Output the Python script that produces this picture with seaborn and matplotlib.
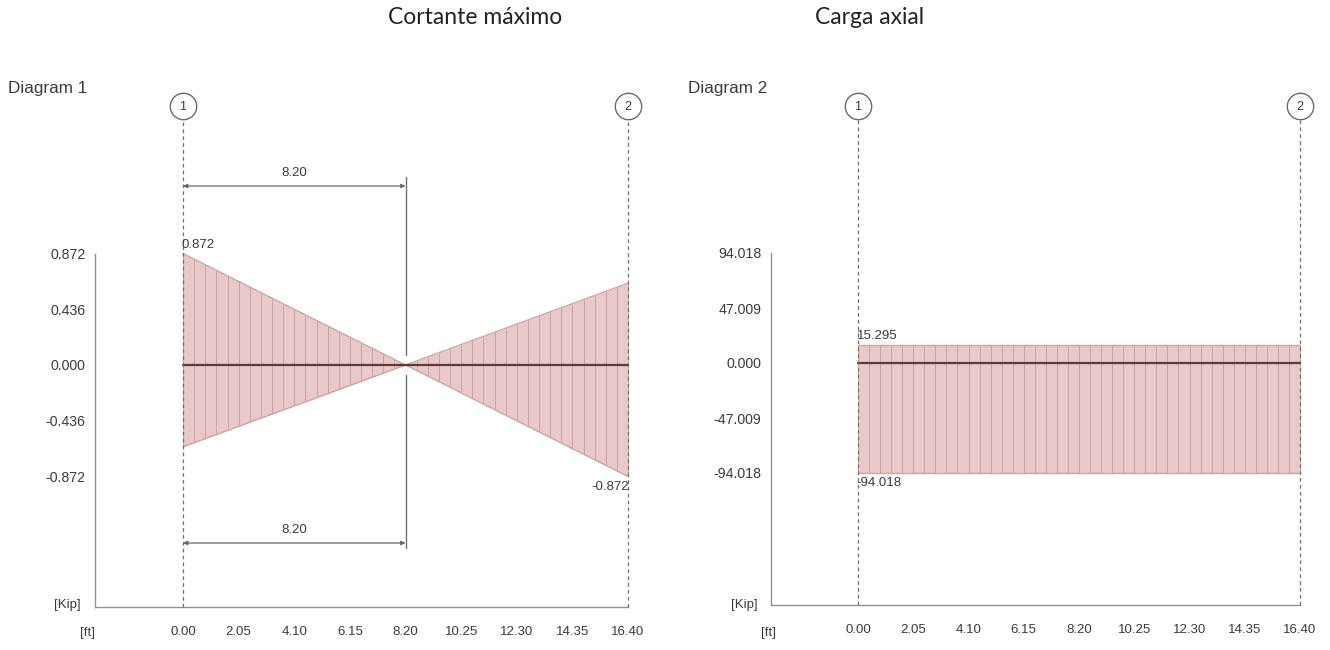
import numpy as np
import pandas as pd
import matplotlib
matplotlib.use("Agg")
import matplotlib.pyplot as plt
import seaborn as sns

# ---- data -------------------------------------------------------------
# Shear envelope (kip) along the member (ft)
shear_x = [0.0, 8.2, 16.4]
shear_max = [0.872, 0.0, 0.64]
shear_min = [-0.64, 0.0, -0.872]
shear_ticks = [0.872, 0.436, 0.0, -0.436, -0.872]

# Axial load envelope (kip)
axial_x = [0.0, 16.4]
axial_max = [15.295, 15.295]
axial_min = [-94.018, -94.018]
axial_ticks = [94.018, 47.009, 0.0, -47.009, -94.018]

x_ticks = [0.00, 2.05, 4.10, 6.15, 8.20, 10.25, 12.30, 14.35, 16.40]
supports = [0.0, 16.4]
support_names = ["1", "2"]
span_len = 8.2

titles = ["Cortante máximo", "Carga axial"]
diagram_names = ["Diagram 1", "Diagram 2"]
y_unit = "[Kip]"
x_unit = "[ft]"

# ---- style ------------------------------------------------------------
sns.set_style("white")
plt.rcParams["font.family"] = ["Liberation Sans", "DejaVu Sans"]

W, H = 1330, 650
FILL = "#e9c8c9"
HATCH = "#cba4a5"
EDGE = "#cfa6a7"
ZERO = "#5e3a3a"
AXC = "#919191"
TXT = "#3a3a3a"
TICK_FS = 9.5
YTICK_FS = 10.2

fig = plt.figure(figsize=(W / 100, H / 100), dpi=100)


def make_axes(box, x0, sx, y0, sy):
    """Axes whose data scale follows the given origin/scale in figure pixels."""
    l, t, r, b = box
    ax = fig.add_axes([l / W, 1 - b / H, (r - l) / W, (b - t) / H])
    ax.set_xlim((l - x0) / sx, (r - x0) / sx)
    ax.set_ylim((y0 - b) / sy, (y0 - t) / sy)
    return ax


def draw_panel(ax, xs, vmax, vmin, yticks, circle_y, n_div=40):
    ax.set_facecolor("none")
    # filled envelope
    ax.fill_between(xs, vmin, vmax, color=FILL, lw=0, zorder=1)
    # vertical hatch stations
    st = np.linspace(xs[0], xs[-1], n_div + 1)
    ax.vlines(st, np.interp(st, xs, vmin), np.interp(st, xs, vmax),
              colors=HATCH, lw=0.7, zorder=2)
    env = pd.DataFrame({"x": list(xs) * 2,
                        "v": list(vmax) + list(vmin),
                        "side": ["max"] * len(xs) + ["min"] * len(xs)})
    sns.lineplot(data=env, x="x", y="v", units="side", estimator=None,
                 color=EDGE, lw=1.0, ax=ax, zorder=3)
    base = pd.DataFrame({"x": [xs[0], xs[-1]], "v": [0.0, 0.0]})
    sns.lineplot(data=base, x="x", y="v", color=ZERO, lw=1.6, ax=ax, zorder=4)

    # support grid lines with numbered bubbles
    ylo = ax.get_ylim()[0]
    for xs_, name in zip(supports, support_names):
        ax.plot([xs_, xs_], [ylo, circle_y], color="#6f6f6f", lw=0.9,
                ls=(0, (3, 2.5)), zorder=5, clip_on=False)
        ax.plot([xs_], [circle_y], marker="o", ms=19, mfc="white",
                mec="#6a6a6a", mew=1.0, zorder=6, clip_on=False)
        ax.annotate(name, xy=(xs_, circle_y), xytext=(0, -0.5),
                    textcoords="offset points", ha="center", va="center",
                    fontsize=9, color=TXT, zorder=7)

    # axes
    for s in ("top", "right"):
        ax.spines[s].set_visible(False)
    for s in ("left", "bottom"):
        ax.spines[s].set_color(AXC)
        ax.spines[s].set_linewidth(1.0)
    ax.spines["left"].set_bounds(ylo, max(yticks))
    ax.spines["bottom"].set_bounds(ax.get_xlim()[0], x_ticks[-1])
    ax.set_yticks(yticks)
    ax.set_yticklabels([f"{v:.3f}" for v in yticks])
    ax.set_xticks(x_ticks)
    ax.set_xticklabels([f"{v:.2f}" for v in x_ticks])
    ax.tick_params(axis="y", direction="out", length=5, width=0.9,
                   color=AXC, labelsize=YTICK_FS, labelcolor=TXT, pad=2)
    ax.tick_params(axis="x", direction="out", length=7, width=0.9,
                   color=AXC, labelsize=TICK_FS, labelcolor=TXT, pad=7)
    ax.set_xlabel("")
    ax.set_ylabel("")
    ax.grid(False)

    # extreme value labels
    ax.annotate(f"{vmax[0]:.3f}", xy=(xs[0], vmax[0]), xytext=(-1, 2),
                textcoords="offset points", ha="left", va="bottom",
                fontsize=TICK_FS, color=TXT, zorder=8)
    if vmin[-1] < vmin[0]:
        ax.annotate(f"{vmin[-1]:.3f}", xy=(xs[-1], vmin[-1]), xytext=(1, -3),
                    textcoords="offset points", ha="right", va="top",
                    fontsize=TICK_FS, color=TXT, zorder=8)
    else:
        ax.annotate(f"{vmin[0]:.3f}", xy=(xs[0], vmin[0]), xytext=(-1, -3),
                    textcoords="offset points", ha="left", va="top",
                    fontsize=TICK_FS, color=TXT, zorder=8)


# ---- left panel: shear -------------------------------------------------
sx1 = (628 - 183) / 16.4
sy1 = 55.75 / 0.436
ax1 = make_axes((95, 88, 650, 607), 183, sx1, 365, sy1)
draw_panel(ax1, shear_x, shear_max, shear_min, shear_ticks,
           circle_y=(365 - 106) / sy1)

# span dimension lines above and below the diagram
dim_top = (365 - 186) / sy1
dim_bot = (365 - 543) / sy1
for dy in (dim_top, dim_bot):
    ax1.annotate("", xy=(0, dy), xytext=(span_len, dy),
                 arrowprops=dict(arrowstyle="<|-|>", color="#666666", lw=0.9,
                                 shrinkA=0, shrinkB=0, mutation_scale=6),
                 zorder=6)
    ax1.annotate(f"{span_len:.2f}", xy=(span_len / 2, dy), xytext=(0, 5),
                 textcoords="offset points", ha="center", va="bottom",
                 fontsize=TICK_FS, color=TXT)
gap = 10 / sy1
ax1.plot([span_len, span_len], [(365 - 177) / sy1, gap], color="#707070",
         lw=1.0, zorder=6)
ax1.plot([span_len, span_len], [-gap, (365 - 548) / sy1], color="#707070",
         lw=1.0, zorder=6)

# ---- right panel: axial load ------------------------------------------
sx2 = (1300 - 858) / 16.4
sy2 = 55.0 / 47.009
ax2 = make_axes((771, 88, 1325, 605), 858, sx2, 363, sy2)
draw_panel(ax2, axial_x, axial_max, axial_min, axial_ticks,
           circle_y=(363 - 106) / sy2)

# ---- titles and unit labels -------------------------------------------
title_font = ["Lato", "DejaVu Sans"]
fig.text(475 / W, 1 - 18 / H, titles[0], ha="center", va="center",
         fontsize=16.5, color="#222222", family=title_font)
fig.text(870 / W, 1 - 18 / H, titles[1], ha="center", va="center",
         fontsize=16.5, color="#222222", family=title_font)

for xl, name in ((8, diagram_names[0]), (688, diagram_names[1])):
    fig.text(xl / W, 1 - 88 / H, name, ha="left", va="center",
             fontsize=12.3, color=TXT)

for xr, xf in ((81, 88), (758, 768)):
    fig.text(xr / W, 1 - 605 / H, y_unit, ha="right", va="center",
             fontsize=TICK_FS, color=TXT)
    fig.text(xf / W, 1 - 633 / H, x_unit, ha="center", va="center",
             fontsize=TICK_FS, color=TXT)

fig.savefig("out.png", dpi=100, facecolor="white")
